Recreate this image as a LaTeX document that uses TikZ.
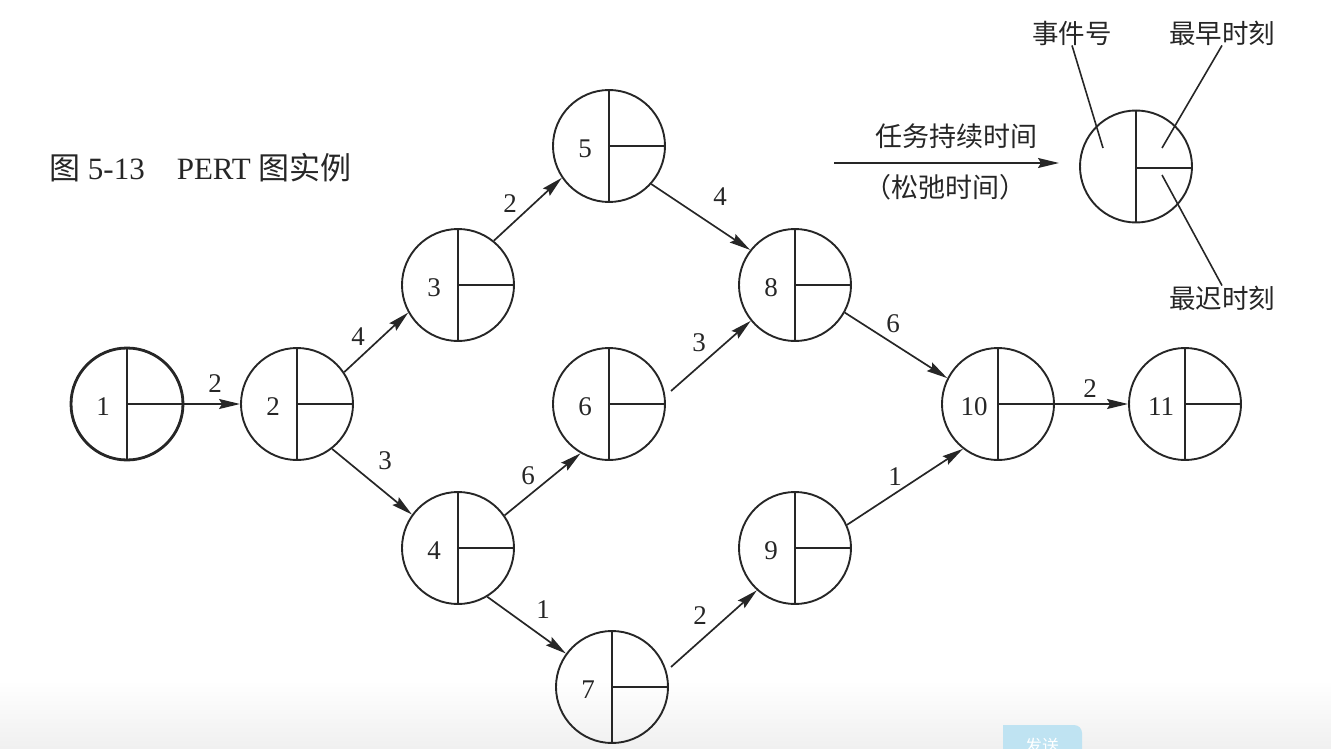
\documentclass[tikz,border=0pt]{standalone}
\usepackage{fontspec}
\setmainfont{Liberation Serif}
\newfontfamily\cjk{Noto Sans CJK SC}
\usetikzlibrary{calc,arrows,arrows.meta}

\definecolor{inkgray}{HTML}{262626}
\definecolor{sendblue}{HTML}{BFE3F2}
\tikzset{
    pertnode/.style={circle,draw=inkgray,line width=1.9pt,minimum size=112pt,inner sep=0pt},
    flow/.style={draw=inkgray,line width=1.7pt,-{Stealth[length=21pt,width=10pt,inset=3pt]}},
    leader/.style={draw=inkgray,line width=1.6pt},
    numtext/.style={font=\fontsize{27}{30}\selectfont,text=inkgray,inner sep=0pt},
    cjktext/.style={font=\cjk\fontsize{26.5}{30}\selectfont,text=inkgray,inner sep=0pt},
}

\begin{document}
\begin{tikzpicture}[x=1pt,y=-1pt]
    \useasboundingbox (0,0) rectangle (1331,749);
    \shade[top color=white,bottom color=black!6] (0,680) rectangle (1331,749);
    \fill[sendblue] (1003,749) -- (1003,725) [rounded corners=8pt] -- (1082,725) [sharp corners] -- (1082,749) -- cycle;
    \node[inner sep=0pt,text=white,font=\cjk\fontsize{17}{20}\selectfont] (send) at (1042,746) {发送};
    %%
    \node[anchor=west,inner sep=0pt,text=inkgray,font=\fontsize{31}{34}\selectfont] (title) at (49,168)
        {{\cjk 图} 5-13\hspace{32pt}PERT {\cjk 图实例}};
    %%
    \foreach \name/\x/\y/\txt in {n1/127/404/1,n2/297/404/2,n3/458/285/3,n4/458/548/4,
        n5/609/146/5,n6/609/404/6,n7/612/687/7,n8/795/285/8,n9/795/548/9,
        n10/998/404/10,n11/1185/404/11}
    {
        \node[pertnode] (\name) at (\x,\y) {};
        \draw[leader,line width=1.9pt] (\name.north) -- (\name.south);
        \draw[leader,line width=2.1pt] (\name.center) -- (\name.east);
        \node[numtext] (t\name) at (\x-24,\y+3) {\txt};
    }
    \node[pertnode,line width=2.8pt] at (n1) {};
    %%
    \coordinate (n6out) at (671,391);
    \coordinate (n7out) at (671,667);
    \foreach \from/\to/\lx/\ly/\txt in {n1.east/n2.west/215/384/2,n2.34/n3.209/358/337/4,
        n2.-52/n4.144/385/461/3,n3.51/n5.214/510/204/2,n5.-42/n8.142/720/197/4,
        n4.35/n6.240/528/476/6,n4.-59/n7.144/543/610/1,n8.-29/n10.153/893/324/6,
        n6out/n8.219/699/343/3,n9.24/n10.232/895/477/1,n7out/n9.228/700/616/2,
        n10.east/n11.west/1090/389/2}
    {
        \draw[flow] (\from) -- (\to);
        \node[numtext] at (\lx,\ly) {\txt};
    }
    %% key
    \node[pertnode] (key) at (1136,166.5) {};
    \draw[leader,line width=1.9pt] (key.north) -- (key.south);
    \draw[leader,line width=2.1pt] (1136,168) -- (key.east |- 0,168);
    \coordinate (keyin) at (834,163);
    \coordinate (keyout) at (1059,163);
    \draw[flow] (keyin) -- (keyout);
    \node[cjktext,font=\cjk\fontsize{27}{30}\selectfont] (dur) at (956,136) {任务持续时间};
    \node[cjktext,font=\cjk\fontsize{27}{30}\selectfont] (slack) at (945,187) {（松弛时间）};
    \node[cjktext] (evt) at (1072,33) {事件号};
    \node[cjktext] (early) at (1222,33) {最早时刻};
    \node[cjktext] (late) at (1222,298) {最迟时刻};
    \coordinate (evtend) at (1103,148);
    \coordinate (earlyend) at (1162,148);
    \coordinate (lateend) at (1162,175);
    \draw[leader] (evt.south) -- (evtend);
    \draw[leader] (early.south) -- (earlyend);
    \draw[leader] (late.north) -- (lateend);
\end{tikzpicture}
\end{document}
